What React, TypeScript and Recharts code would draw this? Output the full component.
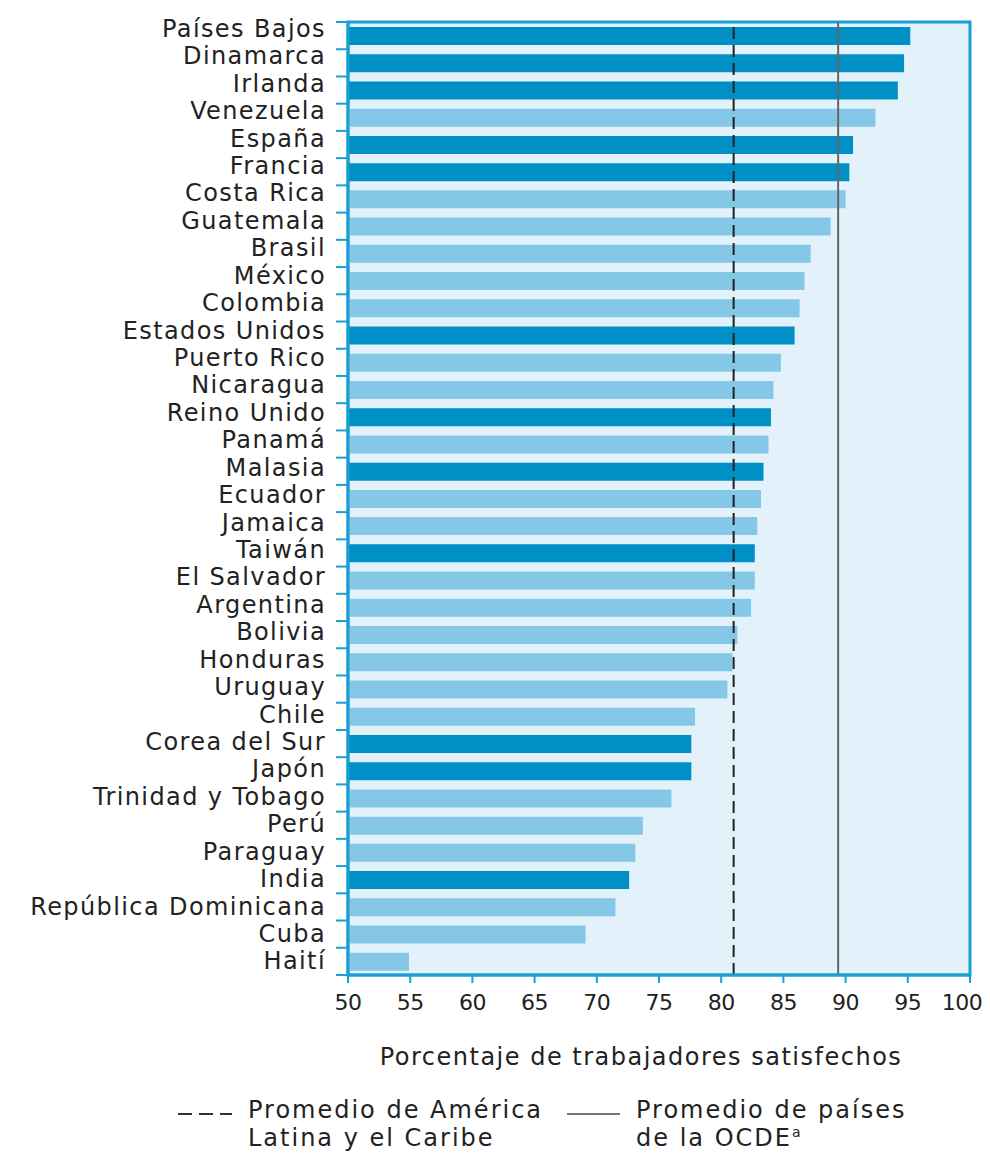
import React from "react";
import {
  BarChart,
  Bar,
  XAxis,
  YAxis,
  Cell,
  CartesianGrid,
  ReferenceLine,
  ReferenceArea,
} from "recharts";

const countries = [
  "Países Bajos", "Dinamarca", "Irlanda", "Venezuela", "España", "Francia",
  "Costa Rica", "Guatemala", "Brasil", "México", "Colombia", "Estados Unidos",
  "Puerto Rico", "Nicaragua", "Reino Unido", "Panamá", "Malasia", "Ecuador",
  "Jamaica", "Taiwán", "El Salvador", "Argentina", "Bolivia", "Honduras",
  "Uruguay", "Chile", "Corea del Sur", "Japón", "Trinidad y Tobago", "Perú",
  "Paraguay", "India", "República Dominicana", "Cuba", "Haití",
];

const satisfied = [
  95.2, 94.7, 94.2, 92.4, 90.6, 90.3,
  90.0, 88.8, 87.2, 86.7, 86.3, 85.9,
  84.8, 84.2, 84.0, 83.8, 83.4, 83.2,
  82.9, 82.7, 82.7, 82.4, 81.3, 80.9,
  80.5, 77.9, 77.6, 77.6, 76.0, 73.7,
  73.1, 72.6, 71.5, 69.1, 54.9,
];

// countries outside Latin America and the Caribbean
const outsideRegion = [
  "Países Bajos", "Dinamarca", "Irlanda", "España", "Francia", "Estados Unidos",
  "Reino Unido", "Malasia", "Taiwán", "Corea del Sur", "Japón", "India",
];

const xTicks = [50, 55, 60, 65, 70, 75, 80, 85, 90, 95, 100];
const latamAverage = 81.0;
const oecdAverage = 89.4;

const data = countries.map((name, i) => ({ name, value: satisfied[i] }));

const FONT = "DejaVu Sans";
const BLUE = "#1a9fd4";
const DARK = "#0090c6";
const LIGHT = "#85c7e6";

const AXIS_X = 340;
const PLOT_TOP = 14;
const PLOT_H = 953;
const STEP = PLOT_H / countries.length;

const CountryTick = (props: any) => {
  const { y, payload, index } = props;
  // labels in the original sit a touch higher towards the top
  const drift = -(countries.length - 1 - index) * 0.2;
  return (
    <g>
      <text
        x={AXIS_X - 22}
        y={y + drift}
        textAnchor="end"
        dominantBaseline="central"
        fontFamily={FONT}
        fontSize={24}
        letterSpacing={1.4}
        fill="#222"
      >
        {payload.value}
      </text>
      <line x1={AXIS_X - 12} x2={AXIS_X} y1={y - STEP / 2} y2={y - STEP / 2} stroke={BLUE} strokeWidth={2} />
      {index === countries.length - 1 && (
        <line x1={AXIS_X - 12} x2={AXIS_X} y1={y + STEP / 2} y2={y + STEP / 2} stroke={BLUE} strokeWidth={2} />
      )}
    </g>
  );
};

const ValueTick = (props: any) => {
  const { x, y, payload } = props;
  // the last label is nudged left so it stays inside the page
  const dx = payload.value === 100 ? -8 : 0;
  return (
    <text
      x={x + dx}
      y={y + 25}
      textAnchor="middle"
      fontFamily={FONT}
      fontSize={22}
      letterSpacing={-0.5}
      fill="#222"
    >
      {payload.value}
    </text>
  );
};

export default function App() {
  return (
    <div style={{ position: "relative", width: 982, height: 1149, fontFamily: FONT, color: "#222" }}>
      <BarChart
        layout="vertical"
        width={982}
        height={1070}
        data={data}
        margin={{ top: PLOT_TOP, right: 20, bottom: 0, left: 0 }}
        barSize={18}
      >
        <CartesianGrid fill="#e3f2fa" horizontal={false} vertical={false} />
        <XAxis
          type="number"
          domain={[50, 100]}
          ticks={xTicks}
          allowDataOverflow
          height={103}
          axisLine={{ stroke: BLUE, strokeWidth: 3 }}
          tickLine={{ stroke: BLUE, strokeWidth: 2 }}
          tickSize={8}
          tick={<ValueTick />}
          label={{
            value: "Porcentaje de trabajadores satisfechos",
            position: "insideBottom",
            offset: 13,
            dx: -18,
            fontFamily: FONT,
            fontSize: 24,
            letterSpacing: 1.5,
            fill: "#222",
          }}
        />
        <YAxis
          type="category"
          dataKey="name"
          width={AXIS_X}
          interval={0}
          axisLine={{ stroke: BLUE, strokeWidth: 3 }}
          tickLine={false}
          tick={<CountryTick />}
        />
        <Bar dataKey="value" isAnimationActive={false}>
          {data.map((d) => (
            <Cell key={d.name} fill={outsideRegion.includes(d.name) ? DARK : LIGHT} />
          ))}
        </Bar>
        <ReferenceLine x={latamAverage} stroke="#222" strokeWidth={2} strokeDasharray="12 6" />
        <ReferenceLine x={oecdAverage} stroke="#666" strokeWidth={2} />
        <ReferenceArea x1={50} x2={100} fill="none" stroke={BLUE} strokeWidth={3} />
      </BarChart>

      <svg style={{ position: "absolute", left: 168, top: 1098 }} width={60} height={16}>
        <line x1={2} x2={56} y1={8} y2={8} stroke="#333" strokeWidth={2} strokeDasharray="14 7" />
      </svg>
      <div style={{ position: "absolute", left: 240, top: 1088, fontSize: 24, lineHeight: "28px", letterSpacing: 2 }}>
        Promedio de América
        <br />
        Latina y el Caribe
      </div>
      <svg style={{ position: "absolute", left: 556, top: 1098 }} width={60} height={16}>
        <line x1={3} x2={56} y1={8} y2={8} stroke="#777" strokeWidth={2} />
      </svg>
      <div style={{ position: "absolute", left: 628, top: 1088, fontSize: 24, lineHeight: "28px", letterSpacing: 2 }}>
        Promedio de países
        <br />
        de la OCDE<sup style={{ fontSize: 14, lineHeight: 0 }}>a</sup>
      </div>
    </div>
  );
}
